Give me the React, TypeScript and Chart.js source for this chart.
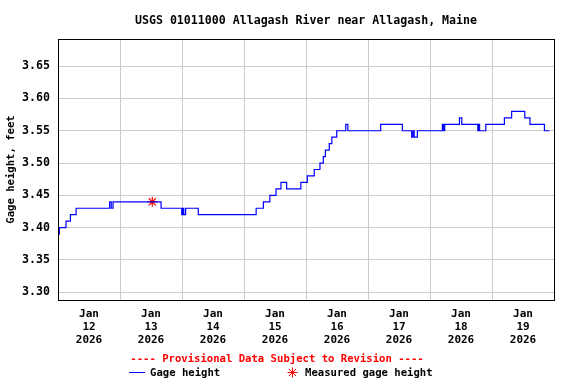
import React, { useEffect, useRef } from "react";
import { Chart, registerables } from "chart.js";

Chart.register(...registerables);

const TITLE = "USGS 01011000 Allagash River near Allagash, Maine";
const Y_TITLE = "Gage height, feet";
const PROVISIONAL = "---- Provisional Data Subject to Revision ----";
const SERIES_NAME = "Gage height";
const MEASURED_NAME = "Measured gage height";

const MONTH = "Jan";
const YEAR = "2026";
const DAY_LABELS = ["12", "13", "14", "15", "16", "17", "18", "19"];
const Y_TICKS = [3.3, 3.35, 3.4, 3.45, 3.5, 3.55, 3.6, 3.65];

// hours since Jan 12 00:00 where the gage height changes, and the new value
const GAGE_HOURS = [
  0, 0.5, 3.1, 4.8, 7.0, 20.0, 20.6, 21.3, 39.9, 47.9, 48.3, 48.7, 49.4, 54.3,
  76.7, 79.5, 82.0, 84.4, 86.3, 88.5, 94.0, 96.5, 99.2, 101.4, 102.7, 103.5,
  105.0, 106.0, 107.9, 111.4, 112.2, 124.9, 133.3, 136.9, 137.4, 137.9, 139.1,
  148.8, 149.3, 149.7, 155.4, 156.3, 162.5, 162.8, 163.2, 165.6, 172.8, 175.6,
  180.7, 182.7, 188.3, 190.2,
];
const GAGE_VALUES = [
  3.39, 3.4, 3.41, 3.42, 3.43, 3.44, 3.43, 3.44, 3.43, 3.42, 3.43, 3.42, 3.43, 3.42,
  3.43, 3.44, 3.45, 3.46, 3.47, 3.46, 3.47, 3.48, 3.49, 3.5, 3.51, 3.52,
  3.53, 3.54, 3.55, 3.56, 3.55, 3.56, 3.55, 3.54, 3.55, 3.54, 3.55,
  3.56, 3.55, 3.56, 3.57, 3.56, 3.55, 3.56, 3.55, 3.56, 3.57, 3.58,
  3.57, 3.56, 3.55, 3.55,
];

const MEASURED_HOURS = [36.5];
const MEASURED_VALUES = [3.44];

const X_MIN = 0;
const X_MAX = 192;
const Y_MIN = 3.288;
const Y_MAX = 3.692;

const FONT = '"DejaVu Sans Mono", monospace';

export default function App() {
  const ref = useRef<HTMLCanvasElement | null>(null);

  useEffect(() => {
    document.body.style.margin = "0";
    const canvas = ref.current;
    if (!canvas) return;

    const overlay = {
      id: "usgsOverlay",
      afterDraw(chart: any) {
        const ctx = chart.ctx as CanvasRenderingContext2D;
        const area = chart.chartArea;
        const xs = chart.scales.x;
        ctx.save();
        // border
        ctx.strokeStyle = "#000";
        ctx.lineWidth = 1;
        ctx.strokeRect(Math.round(area.left) + 0.5, Math.round(area.top) + 0.5,
          Math.round(area.right - area.left), Math.round(area.bottom - area.top));

        ctx.fillStyle = "#000";
        ctx.textAlign = "center";
        ctx.textBaseline = "middle";
        // title
        ctx.font = `bold 11.6px ${FONT}`;
        ctx.fillText(TITLE, (area.left + area.right) / 2, 20.5);

        // y title
        ctx.save();
        ctx.translate(11.5, (area.top + area.bottom) / 2);
        ctx.rotate(-Math.PI / 2);
        ctx.font = `bold 10.6px ${FONT}`;
        ctx.fillText(Y_TITLE, 0, 0);
        ctx.restore();

        // x labels
        ctx.font = `bold 11px ${FONT}`;
        DAY_LABELS.forEach((d, i) => {
          const px = xs.getPixelForValue(12 + 24 * i);
          ctx.fillText(MONTH, px, 314.5);
          ctx.fillText(d, px, 327);
          ctx.fillText(YEAR, px, 340);
        });

        // legend
        ctx.font = `bold 10.6px ${FONT}`;
        ctx.fillStyle = "#ff0000";
        ctx.fillText(PROVISIONAL, 277, 359);
        ctx.textAlign = "left";
        ctx.fillStyle = "#000";
        ctx.fillText(SERIES_NAME, 150, 373);
        ctx.fillText(MEASURED_NAME, 305, 373);
        ctx.strokeStyle = "#0000ff";
        ctx.beginPath();
        ctx.moveTo(129, 372.5);
        ctx.lineTo(145, 372.5);
        ctx.stroke();
        // star
        ctx.strokeStyle = "#ff0000";
        const cx = 292.5, cy = 372.5, r = 5;
        ctx.beginPath();
        for (let k = 0; k < 4; k++) {
          const a = (k * Math.PI) / 4;
          ctx.moveTo(cx - r * Math.cos(a), cy - r * Math.sin(a));
          ctx.lineTo(cx + r * Math.cos(a), cy + r * Math.sin(a));
        }
        ctx.stroke();
        ctx.restore();
      },
    };

    const chart = new Chart(canvas, {
      type: "line",
      data: {
        datasets: [
          {
            label: SERIES_NAME,
            data: GAGE_HOURS.map((h, i) => ({ x: h, y: GAGE_VALUES[i] })),
            borderColor: "#0000ff",
            borderWidth: 1.2,
            pointRadius: 0,
            stepped: true,
            fill: false,
          },
          {
            label: MEASURED_NAME,
            data: MEASURED_HOURS.map((h, i) => ({ x: h, y: MEASURED_VALUES[i] })),
            showLine: false,
            pointStyle: "star",
            pointRadius: 5,
            borderColor: "#ff0000",
            backgroundColor: "#ff0000",
            pointBorderWidth: 1.2,
          },
        ],
      },
      options: {
        animation: false,
        responsive: false,
        maintainAspectRatio: false,
        devicePixelRatio: 1,
        layout: { padding: { top: 39, right: 22, left: 0, bottom: 0 } },
        plugins: {
          legend: { display: false },
          title: { display: false },
          tooltip: { enabled: false },
        },
        scales: {
          x: {
            type: "linear",
            min: X_MIN,
            max: X_MAX,
            afterBuildTicks: (scale: any) => {
              const t = [];
              for (let v = X_MIN; v <= X_MAX; v += 24) t.push({ value: v });
              scale.ticks = t;
            },
            afterFit: (scale: any) => {
              scale.height = 84;
            },
            ticks: { display: false },
            grid: { color: "#cccccc", lineWidth: 1, drawTicks: false },
            border: { display: false },
          },
          y: {
            type: "linear",
            min: Y_MIN,
            max: Y_MAX,
            afterBuildTicks: (scale: any) => {
              scale.ticks = Y_TICKS.map((v) => ({ value: v }));
            },
            afterFit: (scale: any) => {
              scale.width = 58;
            },
            ticks: {
              color: "#000",
              padding: 8,
              font: { family: FONT, size: 11.6, weight: "bold" },
              callback: (v: any) => Number(v).toFixed(2),
            },
            grid: { color: "#cccccc", lineWidth: 1, drawTicks: false },
            border: { display: false },
          },
        },
      },
      plugins: [overlay],
    } as any);

    return () => chart.destroy();
  }, []);

  return (
    <div style={{ position: "absolute", left: 0, top: 0, width: 576, height: 384, background: "#fff" }}>
      <canvas ref={ref} width={576} height={384} style={{ width: 576, height: 384 }} />
    </div>
  );
}
